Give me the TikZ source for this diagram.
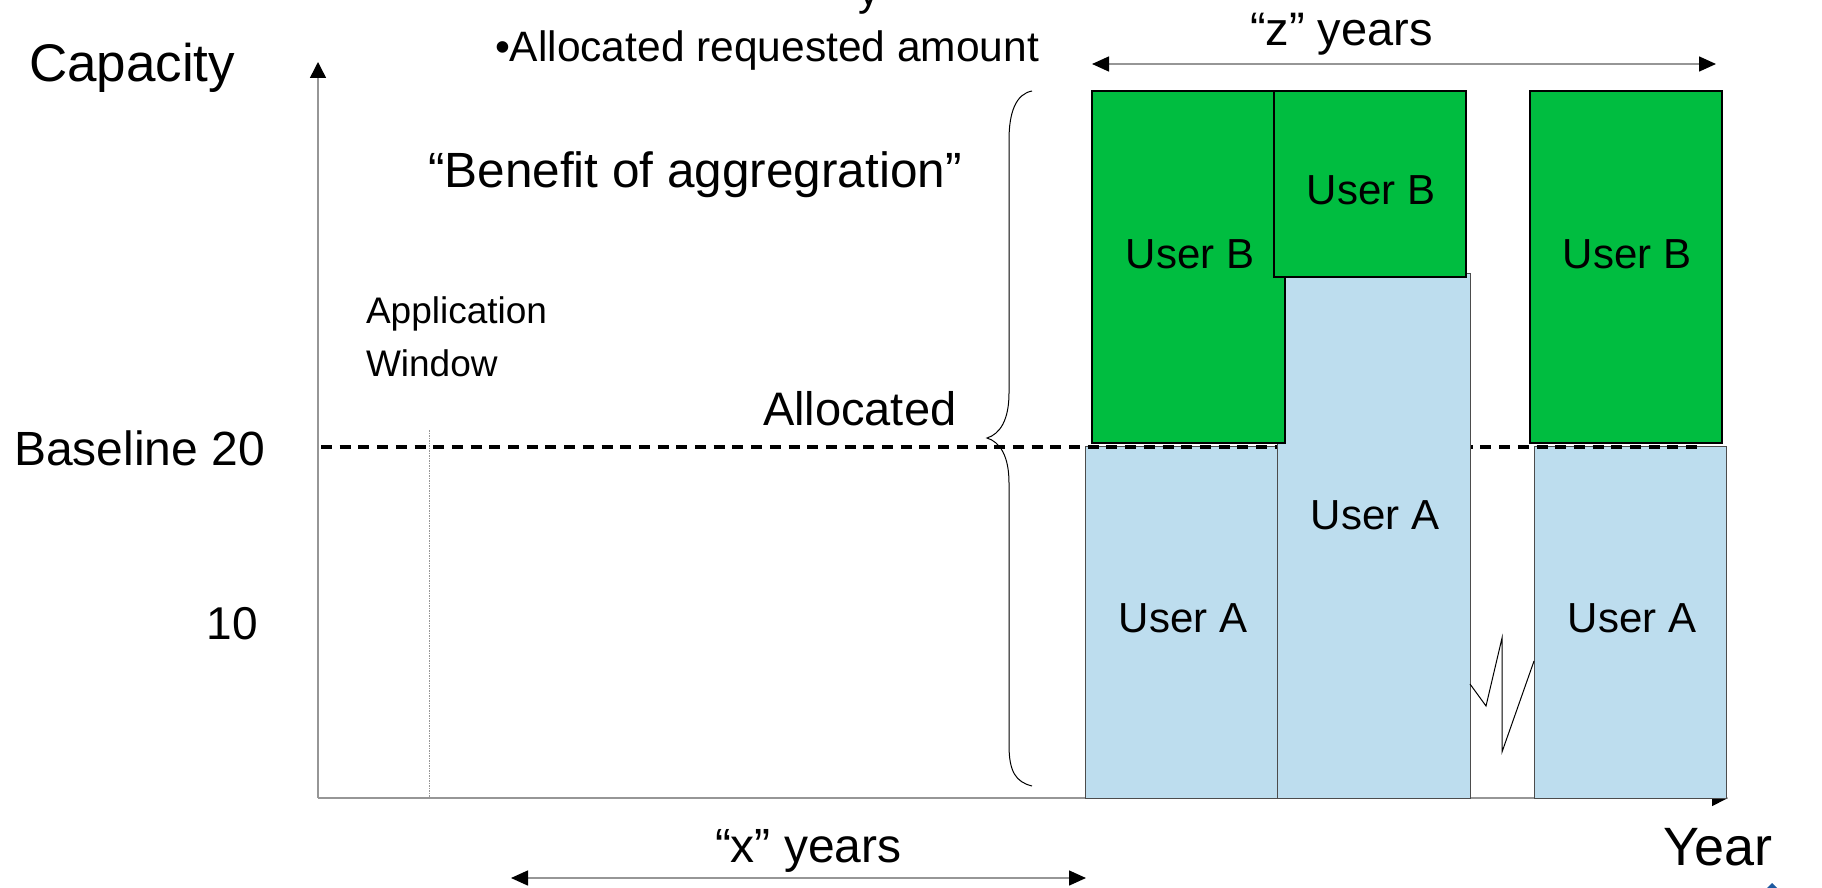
\documentclass[tikz,border=0pt]{standalone}
\usepackage{fontspec}
\setmainfont{Liberation Sans}
\usetikzlibrary{arrows.meta}
\definecolor{barGreen}{RGB}{0,189,64}
\definecolor{barBlue}{RGB}{189,221,238}
\definecolor{axisGray}{RGB}{150,150,150}
\definecolor{logoBlue}{RGB}{30,90,160}
\newcommand\fsz[1]{\fontsize{#1}{#1}\selectfont}
\tikzset{
  txt/.style={inner sep=0pt, outer sep=0pt, anchor=base west},
  txtr/.style={inner sep=0pt, outer sep=0pt, anchor=base east},
  txtc/.style={inner sep=0pt, outer sep=0pt, anchor=base},
  bluebar/.style={draw=black!70, line width=1pt, fill=barBlue, inner sep=0pt, outer sep=0pt},
  greenbar/.style={draw=black, line width=1.5pt, fill=barGreen, inner sep=0pt, outer sep=0pt},
  axisline/.style={axisGray, line width=1.5pt, -{Triangle[length=16pt,width=16pt,color=black]}},
  dimarrow/.style={axisGray, line width=1.5pt, {Triangle[length=17pt,width=15pt,color=black]}-{Triangle[length=17pt,width=15pt,color=black]}},
  userlbl/.style={txtc, font=\fsz{42}},
}
\begin{document}
\begin{tikzpicture}[x=1pt,y=-1pt]
\useasboundingbox[fill=white] (0,0) rectangle (1822,888);
% coordinates
\coordinate (origin) at (318,798);
\coordinate (ytip) at (318,62);
\coordinate (xtip) at (1728,798);
\coordinate (dashL) at (321,447);
\coordinate (dashR) at (1697,447);
\coordinate (awTop) at (429,430);
\coordinate (awBot) at (429,798);
\coordinate (zL) at (1092,64);
\coordinate (zR) at (1716,64);
\coordinate (xL) at (511,878);
\coordinate (xR) at (1086,878);
% axes
\draw[axisline] (origin) -- (ytip);
\draw[axisline] (origin) -- (xtip);
% application window line
\draw[axisGray, line width=0.8pt, dash pattern=on 1.5pt off 1pt] (awTop) -- (awBot);
% brace
\draw[black, line width=1pt] (1032,91) .. controls (1016,94) and (1009,112) .. (1009,140)
  -- (1009,393) .. controls (1009,420) and (1000,434) .. (987,438)
  .. controls (1000,442) and (1009,456) .. (1009,483)
  -- (1009,745) .. controls (1009,772) and (1016,782) .. (1032,786);
% bars
\node[bluebar, minimum width=192pt, minimum height=352pt] (a1) at (1181,622) {};
\node[bluebar, minimum width=192pt, minimum height=352pt] (a3) at (1630,622) {};
\draw[black, line width=3.2pt, dash pattern=on 11pt off 7.7pt] (dashL) -- (dashR);
\node[bluebar, minimum width=193pt, minimum height=525pt] (a2) at (1373.5,535.5) {};
\node[greenbar, minimum width=193pt, minimum height=352pt] (b1) at (1188.5,267) {};
\node[greenbar, minimum width=192pt, minimum height=186pt] (b2) at (1370,184) {};
\node[greenbar, minimum width=192pt, minimum height=352pt] (b3) at (1626,267) {};
% user labels
\node[userlbl] (lb1) at (1190,268) {User B};
\node[userlbl] (lb2) at (1371,204) {User B};
\node[userlbl] (lb3) at (1627,268) {User B};
\node[userlbl] (la1) at (1183,632) {User A};
\node[userlbl] (la2) at (1375,529) {User A};
\node[userlbl] (la3) at (1632,632) {User A};
% break zigzag
\coordinate (zz1) at (1470,684);
\coordinate (zz2) at (1486,706);
\coordinate (zz3) at (1502,638);
\coordinate (zz4) at (1502,752);
\coordinate (zz5) at (1534,661);
\draw[black, line width=1pt] (zz1) -- (zz2) -- (zz3) -- (zz4) -- (zz5);
% dimension arrows
\draw[dimarrow] (zL) -- (zR);
\draw[dimarrow] (xL) -- (xR);
% texts
\node[txt, font=\fsz{42.5}] (cut) at (858,6) {y};
\node[txt, font=\fsz{53}] (cap) at (29,82) {Capacity};
\node[txt, font=\fsz{42.5}] (alloc) at (495,62) {•Allocated requested amount};
\node[txt, font=\fsz{49.5}] (benefit) at (428,187) {“Benefit of aggregration”};
\node[txt, font=\fsz{37}] (app) at (366,323) {Application};
\node[txt, font=\fsz{37}] (win) at (366,376) {Window};
\node[txt, font=\fsz{47}] (allocd) at (763,425) {Allocated};
\node[txtr, font=\fsz{48}] (base) at (265,465) {Baseline 20};
\node[txtr, font=\fsz{46}] (ten) at (258,639) {10};
\node[txt, font=\fsz{47}] (zy) at (1250,46) {“z” years};
\node[txt, font=\fsz{48}] (xy) at (715,862) {“x” years};
\node[txt, font=\fsz{54}] (year) at (1663,865) {Year};
% logo fragment
\fill[logoBlue] (1767,888) -- (1772,883) -- (1777,888) -- cycle;
\end{tikzpicture}
\end{document}
